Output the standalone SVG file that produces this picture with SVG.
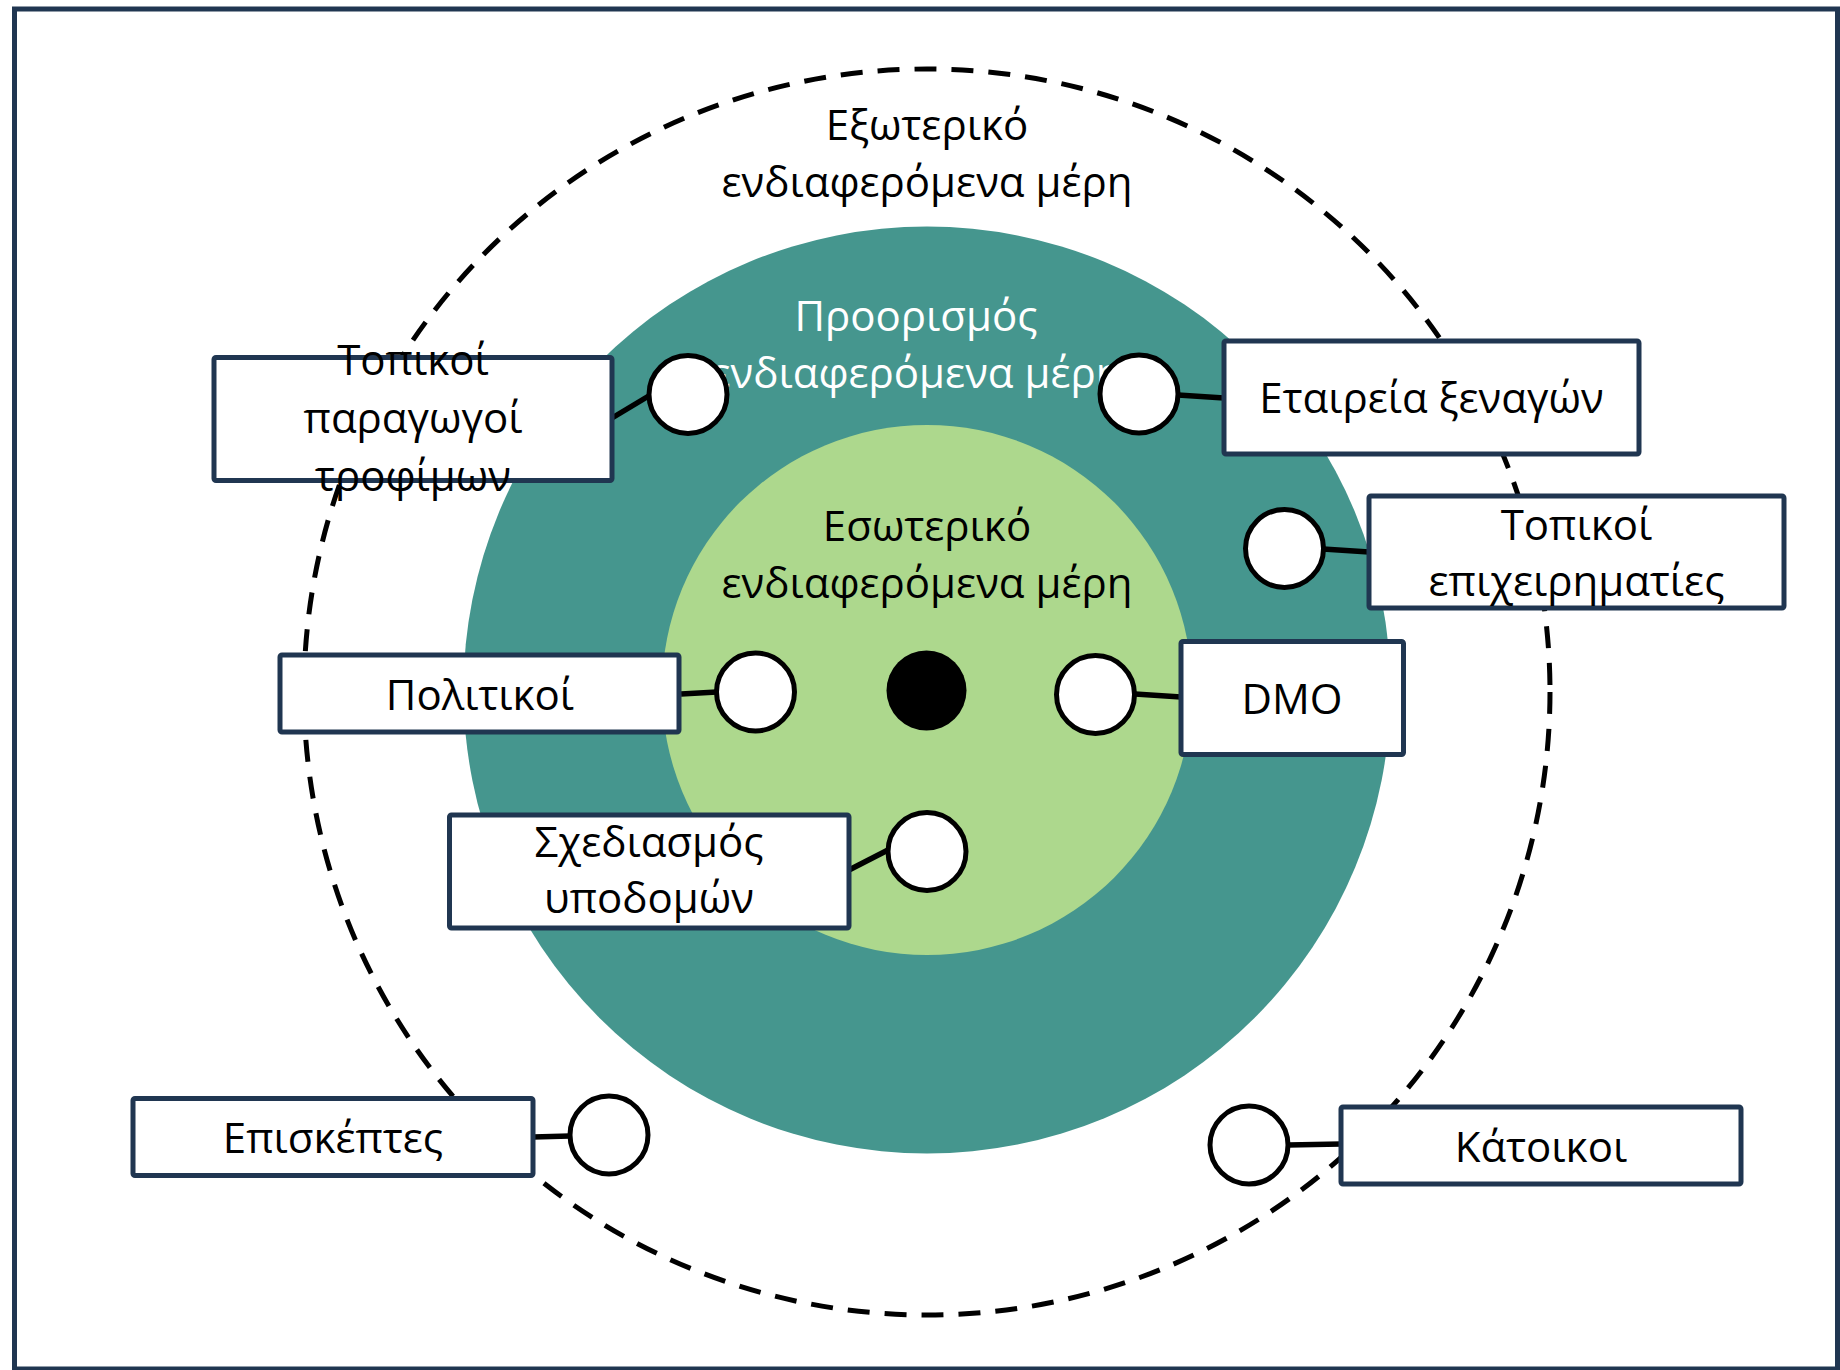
<svg xmlns="http://www.w3.org/2000/svg" width="1840" height="1370" viewBox="0 0 1840 1370">
  <style>
    .frame { fill: #ffffff; stroke: #203651; stroke-width: 5; }
    .box { fill: #ffffff; stroke: #203651; stroke-width: 5; }
    .port { fill: #ffffff; stroke: #000000; stroke-width: 5; }
    .conn { stroke: #000000; stroke-width: 5.5; fill: none; }
    .t { font-family: "Open Sans", "Noto Sans", "DejaVu Sans", sans-serif; font-size: 42px; text-anchor: middle; fill: #000000; }
    .tw { fill: #ffffff; }
    .outer { fill: none; stroke: #000000; stroke-width: 5; stroke-dasharray: 22 15; }
  </style>
  <rect class="frame" x="14.5" y="9" width="1823" height="1360"/>
  <g id="rings">
    <circle cx="927" cy="692" r="623" class="outer"/>
    <circle cx="927" cy="690" r="463.5" fill="#45968e"/>
    <circle cx="927" cy="690" r="265" fill="#add88d"/>
    <circle cx="926.5" cy="690.5" r="40" fill="#000000"/>
  </g>
  <g id="ring-labels">
    <text class="t" x="927" y="140">Εξωτερικό</text>
    <text class="t" x="927" y="197">ενδιαφερόμενα μέρη</text>
    <text class="t tw" x="916" y="331">Προορισμός</text>
    <text class="t tw" x="916" y="388">ενδιαφερόμενα μέρη</text>
    <text class="t" x="927" y="541">Εσωτερικό</text>
    <text class="t" x="927" y="598">ενδιαφερόμενα μέρη</text>
  </g>
  <g id="connectors">
    <line class="conn" x1="612" y1="418" x2="652" y2="394"/>
    <line class="conn" x1="1178" y1="395" x2="1224" y2="398"/>
    <line class="conn" x1="1323" y1="549" x2="1369" y2="552"/>
    <line class="conn" x1="681" y1="694" x2="717" y2="692"/>
    <line class="conn" x1="1135" y1="694" x2="1181" y2="697"/>
    <line class="conn" x1="849" y1="870" x2="888" y2="850"/>
    <line class="conn" x1="533" y1="1137" x2="570" y2="1136"/>
    <line class="conn" x1="1288" y1="1145" x2="1341" y2="1144"/>
  </g>
  <g id="node-paragogoi">
    <circle class="port" cx="688" cy="394.5" r="39"/>
    <rect class="box" x="214" y="357.5" width="398" height="123" rx="2"/>
    <text class="t" x="413" y="375">Τοπικοί</text>
    <text class="t" x="413" y="433">παραγωγοί</text>
    <text class="t" x="413" y="491">τροφίμων</text>
  </g>
  <g id="node-xenagon">
    <circle class="port" cx="1139" cy="394" r="39"/>
    <rect class="box" x="1224" y="341" width="415" height="113" rx="2"/>
    <text class="t" x="1431.5" y="413">Εταιρεία ξεναγών</text>
  </g>
  <g id="node-epixeirimaties">
    <circle class="port" cx="1284.5" cy="548.5" r="39"/>
    <rect class="box" x="1369" y="496" width="415" height="112" rx="2"/>
    <text class="t" x="1576.5" y="540">Τοπικοί</text>
    <text class="t" x="1576.5" y="596">επιχειρηματίες</text>
  </g>
  <g id="node-politikoi">
    <circle class="port" cx="755.5" cy="692" r="39"/>
    <rect class="box" x="280" y="655" width="399" height="77" rx="2"/>
    <text class="t" x="480" y="710">Πολιτικοί</text>
  </g>
  <g id="node-dmo">
    <circle class="port" cx="1095.5" cy="694.5" r="39"/>
    <rect class="box" x="1181" y="641.5" width="222.5" height="113" rx="2"/>
    <text class="t" x="1292" y="714">DMO</text>
  </g>
  <g id="node-ypodomon">
    <circle class="port" cx="927" cy="851.5" r="39"/>
    <rect class="box" x="449.5" y="815" width="399.5" height="113" rx="2"/>
    <text class="t" x="649" y="857">Σχεδιασμός</text>
    <text class="t" x="649" y="913">υποδομών</text>
  </g>
  <g id="node-episkeptes">
    <circle class="port" cx="609" cy="1135" r="39"/>
    <rect class="box" x="133" y="1098.5" width="400" height="77" rx="2"/>
    <text class="t" x="333" y="1153">Επισκέπτες</text>
  </g>
  <g id="node-katoikoi">
    <circle class="port" cx="1249" cy="1145" r="39"/>
    <rect class="box" x="1341" y="1107" width="400" height="77" rx="2"/>
    <text class="t" x="1541" y="1162">Κάτοικοι</text>
  </g>
</svg>
